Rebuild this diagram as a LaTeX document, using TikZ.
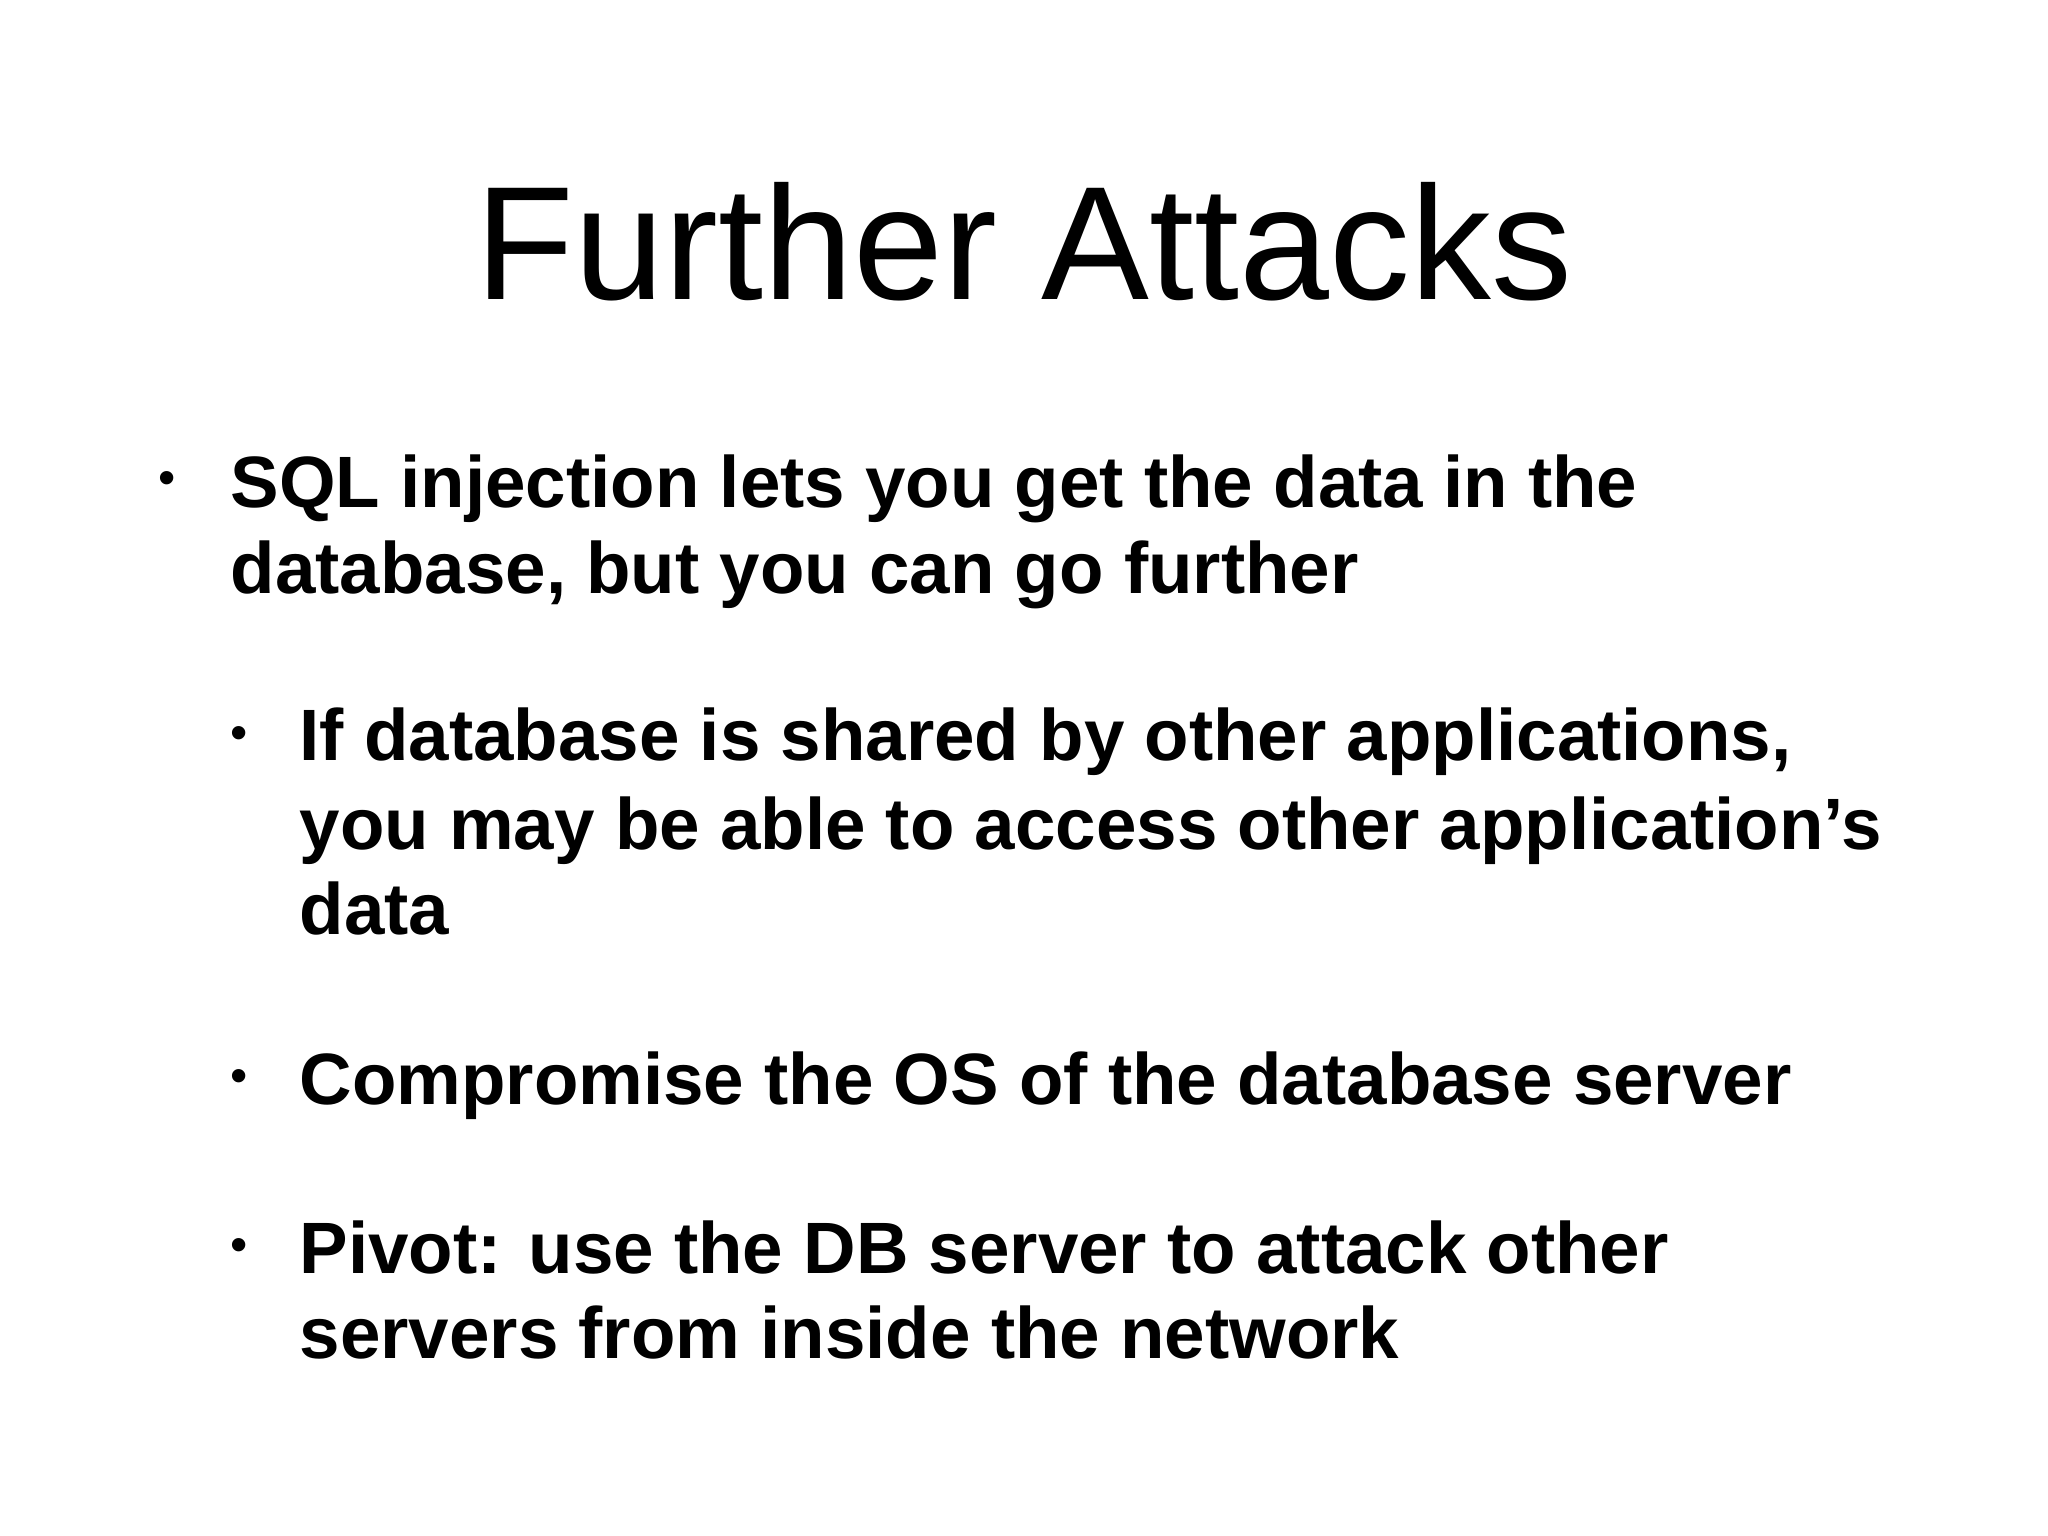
\documentclass[tikz,border=0pt]{standalone}
\usepackage{fontspec}
\setmainfont{Liberation Sans}
\begin{document}
\begin{tikzpicture}[x=1cm,y=-1cm,
  line/.style={anchor=base west,inner sep=0pt,font=\fontsize{20.7}{24}\selectfont\bfseries},
  bul/.style={anchor=base,inner sep=0pt,font=\fontsize{14}{16}\selectfont}]
\fill[white] (0,0) rectangle (20.48,15.36);
\useasboundingbox (0,0) rectangle (20.48,15.36);
\node[anchor=base,inner sep=0pt,font=\fontsize{46}{50}\selectfont] (title) at (10.24,3.00) {Further Attacks};
\node[bul] (b1) at (1.67,4.95) {•};
\node[line] (l1a) at (2.30,5.07) {SQL injection lets you get the data in the};
\node[line] (l1b) at (2.30,5.94) {database, but you can go further};
\node[bul] (b2) at (2.39,7.49) {•};
\node[line] (l2a) at (2.99,7.61) {If database is shared by other applications,};
\node[line] (l2b) at (2.99,8.49) {you may be able to access other application's};
\node[line] (l2c) at (2.99,9.34) {data};
\node[bul] (b3) at (2.39,10.92) {•};
\node[line] (l3a) at (2.99,11.04) {Compromise the OS of the database server};
\node[bul] (b4) at (2.39,12.61) {•};
\node[line] (l4a) at (2.99,12.73) {Pivot: use the DB server to attack other};
\node[line] (l4b) at (2.99,13.58) {servers from inside the network};
\end{tikzpicture}
\end{document}
